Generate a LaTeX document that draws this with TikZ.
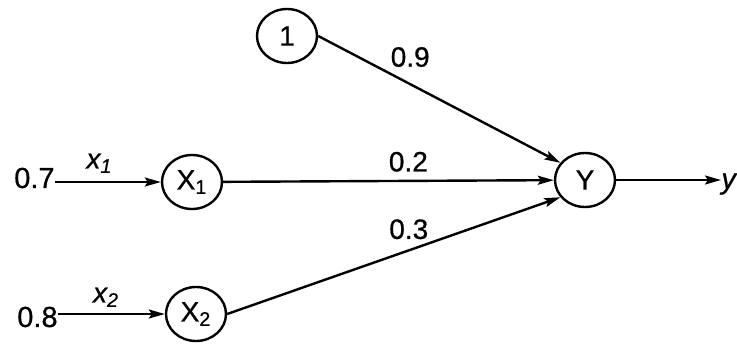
\documentclass[tikz,border=0pt]{standalone}
\usepackage{fontspec}
\setmainfont{Liberation Sans}
\newfontfamily\heavyfont[FakeBold=0.7]{Liberation Sans}
\usetikzlibrary{shapes.geometric,arrows.meta}
\begin{document}
\begin{tikzpicture}[x=0.5pt,y=-0.5pt,
  neuron/.style={ellipse,draw,line width=1.2pt,minimum width=30pt,minimum height=27pt,inner sep=0pt,font=\heavyfont\fontsize{14}{16}\selectfont},
  txt/.style={inner sep=0pt,font=\heavyfont\fontsize{14.5}{16}\selectfont},
  lbl/.style={inner sep=0pt,font=\heavyfont\fontsize{14}{16}\selectfont},
  conn/.style={line width=1.2pt,-{Stealth[length=8pt,width=4.5pt,inset=1.5pt]}}]
\useasboundingbox (0,0) rectangle (737,347);
\node[neuron] (one) at (287,36) {1};
\node[neuron] (x1) at (192,182) {X\textsubscript{1}};
\node[neuron] (x2) at (196,314) {X\textsubscript{2}};
\node[neuron] (y) at (585,180) {Y};
\node[txt,anchor=east] (in1) at (55,178) {0.7};
\node[txt,anchor=east] (in2) at (58,317) {0.8};
\node[txt,anchor=west] (out) at (721,184) {\itshape y};
\draw[conn] (in1.east |- x1.west) -- (x1.west) node[lbl,pos=0.42,above=4pt] {\itshape x\textsubscript{1}};
\draw[conn] (in2.east |- x2.west) -- (x2.west) node[lbl,pos=0.45,above=3pt] {\itshape x\textsubscript{2}};
\draw[conn] (one.east) -- (y.145) node[lbl,pos=0.38,above=8pt] {0.9};
\draw[conn] (x1) -- (y) node[lbl,pos=0.56,above=4pt] {0.2};
\draw[conn] (x2.east) -- (y.215) node[lbl,pos=0.545,above=5pt] {0.3};
\draw[conn] (y.east) -- (y.east -| out.west);
\end{tikzpicture}
\end{document}
